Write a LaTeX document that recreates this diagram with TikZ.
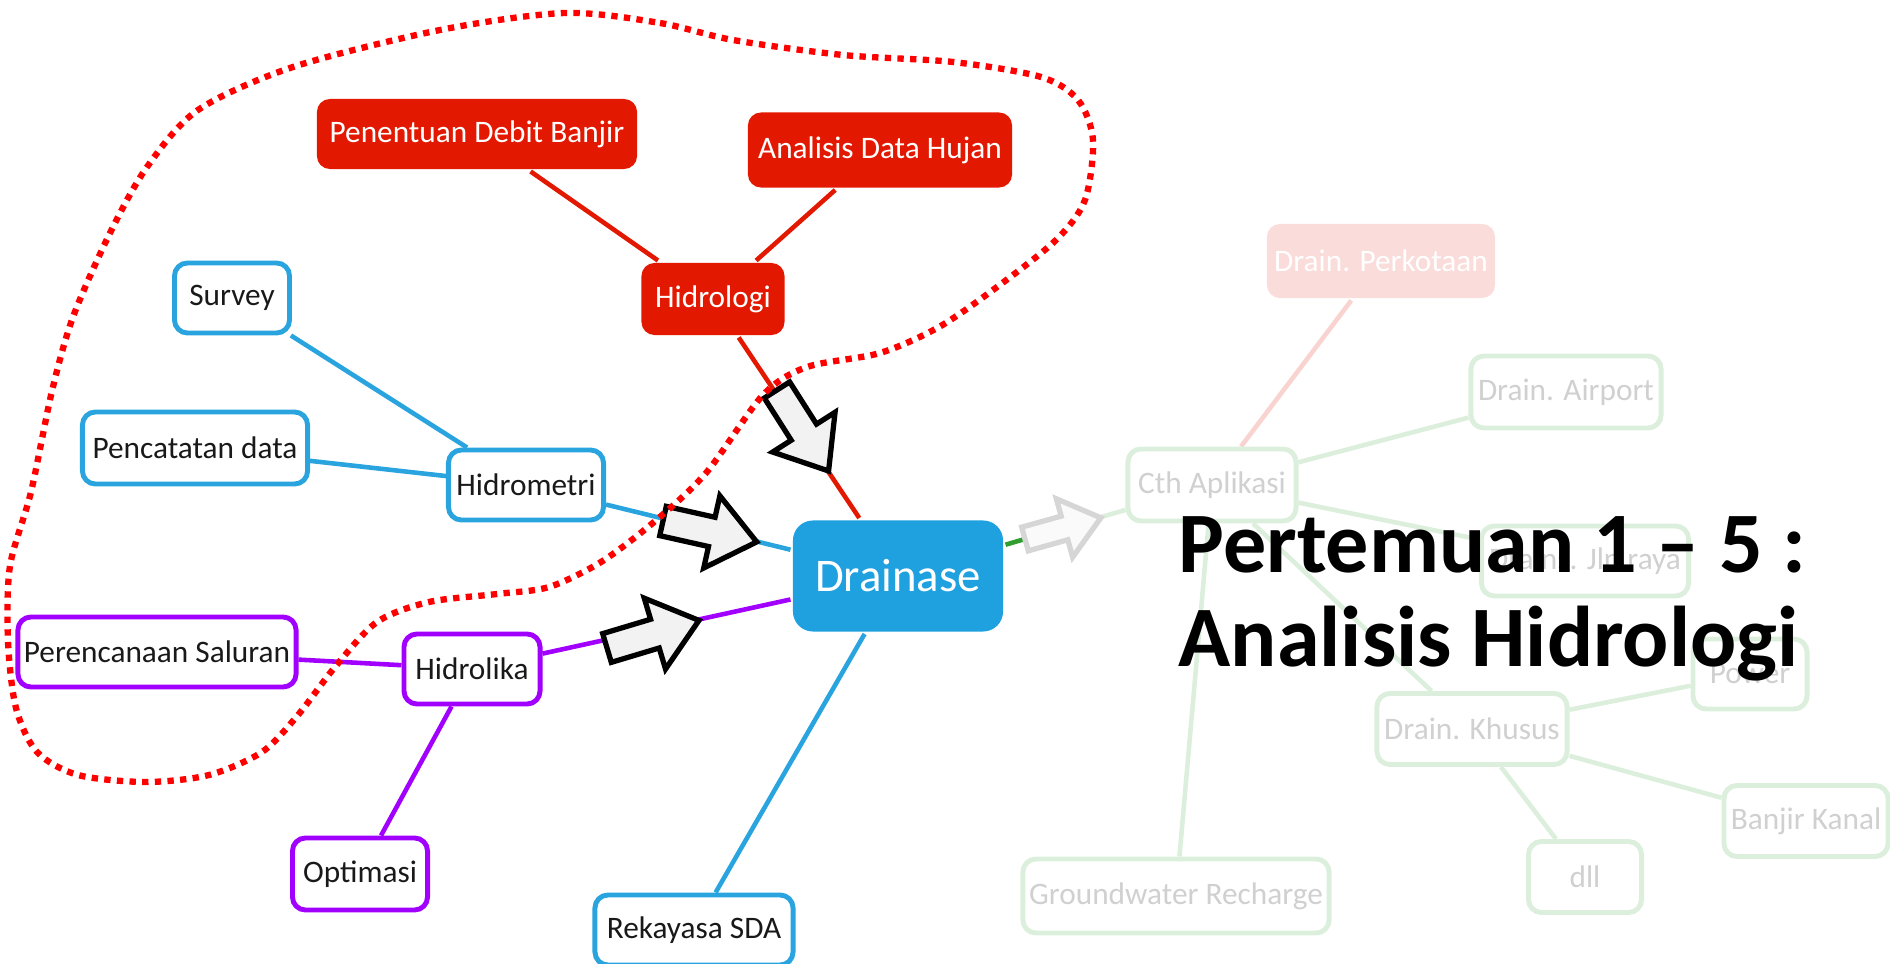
\documentclass[tikz,border=0pt]{standalone}
\usepackage{fontspec}
\setmainfont{Carlito}
\usetikzlibrary{backgrounds}

\definecolor{hidred}{RGB}{227,24,0}
\definecolor{hidblue}{RGB}{41,164,223}
\definecolor{hidpurple}{RGB}{161,0,255}
\definecolor{mainblue}{RGB}{31,161,224}
\definecolor{appgreen}{RGB}{47,158,47}
\definecolor{fadegreen}{RGB}{220,238,220}
\definecolor{fadetext}{RGB}{208,208,208}
\definecolor{fadepinkfill}{RGB}{250,220,218}
\definecolor{fadered}{RGB}{248,211,207}
\definecolor{arrowgray}{RGB}{242,242,242}
\definecolor{arrowfade}{RGB}{214,214,214}
\definecolor{blobred}{RGB}{255,0,0}

\tikzset{
  box/.style={rounded corners=0.13cm, minimum height=0.7cm, inner sep=0pt, line width=1.4pt,
    font=\fontsize{8.9}{10}\selectfont},
  redbox/.style={box, fill=hidred, text=white},
  bluebox/.style={box, draw=hidblue, fill=white, text=black!90},
  purplebox/.style={box, draw=hidpurple, fill=white, text=black!90},
  mainbox/.style={box, rounded corners=0.2cm, fill=mainblue, text=white,
    font=\fontsize{13.3}{15}\selectfont},
  fadebox/.style={box, draw=fadegreen, fill=white, text=fadetext},
  fadepink/.style={box, fill=fadepinkfill, text=white},
  rededge/.style={draw=hidred, line width=1.3pt},
  blueedge/.style={draw=hidblue, line width=1.3pt},
  purpleedge/.style={draw=hidpurple, line width=1.3pt},
  greenedge/.style={draw=appgreen, line width=1.3pt},
  fadeedge/.style={draw=fadegreen, line width=1.3pt},
  blockarrow/.pic={
    \draw[pic actions] (0,-15) -- (50,-15) -- (50,-37) -- (96,0) -- (50,37) -- (50,15) -- (0,15) -- cycle;
  }
}

\begin{document}
\begin{tikzpicture}[x=0.01cm, y=-0.01cm]
\useasboundingbox (0,0) rectangle (1890,964);

% Centre
\node[mainbox, minimum width=2.1cm, minimum height=1.11cm] (drn) at (898,576) {Drainase};

% Hidrologi branch (red)
\node[redbox, minimum width=1.43cm, minimum height=0.72cm] (hdl) at (713,299) {Hidrologi};
\node[redbox, minimum width=3.2cm] (pdb) at (477,134) {Penentuan Debit Banjir};
\node[redbox, minimum width=2.64cm, minimum height=0.75cm] (adh) at (880,150) {Analisis Data Hujan};

% Hidrometri branch (blue)
\node[bluebox, minimum width=1.55cm] (hdm) at (526,485) {Hidrometri};
\node[bluebox, minimum width=1.15cm] (svy) at (232,298) {Survey};
\node[bluebox, minimum width=2.25cm, minimum height=0.72cm] (pct) at (195,448) {Pencatatan data};
\node[bluebox, minimum width=1.98cm] (rks) at (694,930) {Rekayasa SDA};

% Hidrolika branch (purple)
\node[purplebox, minimum width=1.36cm] (hdk) at (472,669) {Hidrolika};
\node[purplebox, minimum width=2.78cm] (prs) at (157,652) {Perencanaan Saluran};
\node[purplebox, minimum width=1.35cm, minimum height=0.72cm] (opt) at (360,874) {Optimasi};

% Faded part (Cth Aplikasi)
\node[fadebox, minimum width=1.68cm, minimum height=0.72cm] (cth) at (1212,485) {Cth Aplikasi};
\node[fadepink, minimum width=2.28cm, minimum height=0.74cm] (dpk) at (1381,261) {Drain. Perkotaan};
\node[fadebox, minimum width=1.9cm, minimum height=0.72cm] (dap) at (1566,392) {Drain. Airport};
\node[fadebox, minimum width=2.07cm] (djr) at (1585,561) {Drains. Jln raya};
\node[fadebox, minimum width=1.9cm, minimum height=0.71cm] (dkh) at (1472,729) {Drain. Khusus};
\node[fadebox, minimum width=1.14cm] (pwr) at (1750,674) {Power};
\node[fadebox, minimum width=1.64cm, minimum height=0.71cm] (bkn) at (1806,821) {Banjir Kanal};
\node[fadebox, minimum width=1.13cm, minimum height=0.71cm] (dll) at (1585,877) {dll};
\node[fadebox, minimum width=3.06cm, minimum height=0.74cm] (gwr) at (1176,896) {Groundwater Recharge};

\coordinate (fadetail) at (1025,539);

% Connectors
\begin{scope}[on background layer]
\foreach \a/\b in {hdl/pdb, hdl/adh, hdl/drn}
  \draw[rededge] (\a) -- (\b);
\foreach \a/\b in {hdm/svy, hdm/pct, hdm/drn, drn/rks}
  \draw[blueedge] (\a) -- (\b);
\foreach \a/\b in {hdk/prs, hdk/opt, hdk/drn}
  \draw[purpleedge] (\a) -- (\b);
\draw[greenedge] (drn) -- (fadetail);
\draw[fadeedge] (fadetail) -- (cth);
\draw[draw=fadered, line width=1.3pt] (cth) -- (dpk);
\foreach \a/\b in {cth/dap, cth/djr, cth/dkh, cth/gwr, dkh/pwr, dkh/bkn, dkh/dll}
  \draw[fadeedge] (\a) -- (\b);
\end{scope}

% Block arrows pointing at Drainase
\pic[draw=black, fill=arrowgray, line width=1.5pt, rotate=-57.5] at (777,390) {blockarrow};
\pic[draw=black, fill=arrowgray, line width=1.5pt, rotate=-12.6] at (663,521) {blockarrow};
\pic[draw=black, fill=arrowgray, line width=1.5pt, rotate=16.7] at (607,648) {blockarrow};
\pic[draw=arrowfade, fill=white!98!black, line width=1.5pt, rotate=15.6, scale=0.82] at (fadetail) {blockarrow};

% Dotted outline round the first meetings
\draw[blobred, line width=1.8pt, dash pattern=on 1.8pt off 1.8pt]
  plot[smooth cycle] coordinates {
    (565,13) (660,23) (733,40) (843,55) (953,62) (1041,77) (1078,100) (1093,140)
    (1085,200) (1056,240) (997,287) (939,327) (880,353) (807,367) (763,395)
    (706,473) (654,522) (601,562) (549,587) (497,594) (429,602) (377,622)
    (335,667) (298,715) (262,752) (209,775) (146,782) (78,775) (37,752)
    (16,708) (8,641) (10,566) (31,492) (52,391) (73,317) (110,233) (147,167)
    (198,110) (293,67) (440,30)};

% Title
\node[anchor=base west, align=left, inner sep=0pt, font=\fontsize{24.5}{27}\selectfont\bfseries]
  (ttl) at (1178,667) {Pertemuan 1 – 5 :\\Analisis Hidrologi};

\end{tikzpicture}
\end{document}
